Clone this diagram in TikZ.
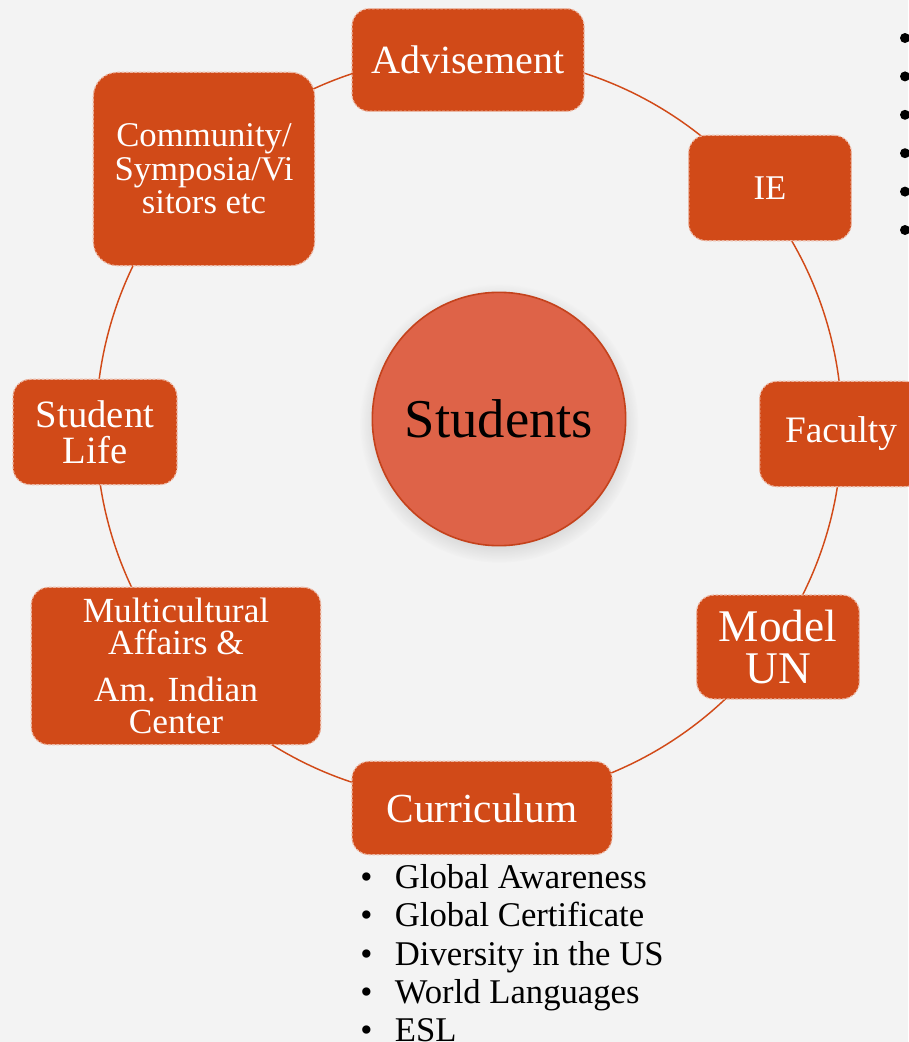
\documentclass[tikz,border=0pt]{standalone}
\usepackage{fontspec}
\setmainfont{Liberation Serif}
\usetikzlibrary{shadows}

\definecolor{boxorange}{RGB}{209,74,24}
\definecolor{huborange}{RGB}{222,99,72}
\definecolor{hubedge}{RGB}{196,66,28}
\definecolor{paper}{RGB}{243,243,243}

\newcommand{\fsz}[2]{\fontsize{#1}{#2}\selectfont}

\tikzset{
  box/.style={draw=white!60!boxorange, dash pattern=on 2pt off 1.2pt,
    line width=0.9pt, fill=boxorange, rounded corners=13pt,
    text=white, align=center, inner sep=2pt},
  hub/.style={circle, fill=huborange, draw=hubedge, line width=1.2pt,
    minimum size=190pt, inner sep=0pt,
    circular drop shadow={shadow xshift=0pt, shadow yshift=-3pt, opacity=0.25}},
  ring/.style={draw=boxorange, line width=1.1pt}
}

\begin{document}
\begin{tikzpicture}[x=0.75pt, y=-0.75pt]

  %% page and background
  \useasboundingbox (0,0) rectangle (908,1042);
  \fill[paper] (0,0) rectangle (908,1042);

  %% ring through the boxes
  \coordinate (ringc) at (469,428);
  \draw[ring] (ringc) circle [x radius=373, y radius=373];

  %% centre
  \node[hub, font=\fsz{41}{41}] (stud) at (499,419) {Students};

  %% boxes round the ring
  \node[box, minimum width=174pt, minimum height=77pt, font=\fsz{30}{30}]
    (adv) at (468,60) {Advisement};
  \node[box, minimum width=122pt, minimum height=79pt, font=\fsz{26}{26}]
    (ie) at (770,188) {IE};
  \node[box, minimum width=122pt, minimum height=79pt, font=\fsz{28}{28}]
    (fac) at (841,434) {Faculty};
  \node[box, minimum width=122pt, minimum height=78pt, font=\fsz{34}{32}]
    (mun) at (778,647) {Model\\UN};
  \node[box, minimum width=195pt, minimum height=70pt, font=\fsz{31}{31}]
    (cur) at (482,808) {Curriculum};
  \node[box, minimum width=217pt, minimum height=118pt, font=\fsz{26.5}{24}]
    (mca) at (176,666) {Multicultural\\Affairs \&\\[11pt]Am. Indian\\Center};
  \node[box, minimum width=123pt, minimum height=79pt, font=\fsz{29}{27}]
    (slife) at (95,432) {Student\\Life};
  \node[box, minimum width=166pt, minimum height=145pt, rounded corners=18pt,
    font=\fsz{26}{25}]
    (comm) at (204,169) {Community/\\Symposia/Vi\\sitors etc};

  %% list under the curriculum box
  \node[anchor=north west, align=left, inner sep=0pt, font=\fsz{26}{28.8}]
    (curlist) at (360,864)
    {\makebox[26pt][l]{\textbullet}Global Awareness\\
     \makebox[26pt][l]{\textbullet}Global Certificate\\
     \makebox[26pt][l]{\textbullet}Diversity in the US\\
     \makebox[26pt][l]{\textbullet}World Languages\\
     \makebox[26pt][l]{\textbullet}ESL};

  %% bullets of the list running off the right edge
  \foreach \i in {0,...,5}
    \fill (905,38+38.4*\i) circle [x radius=5, y radius=5];

\end{tikzpicture}
\end{document}
